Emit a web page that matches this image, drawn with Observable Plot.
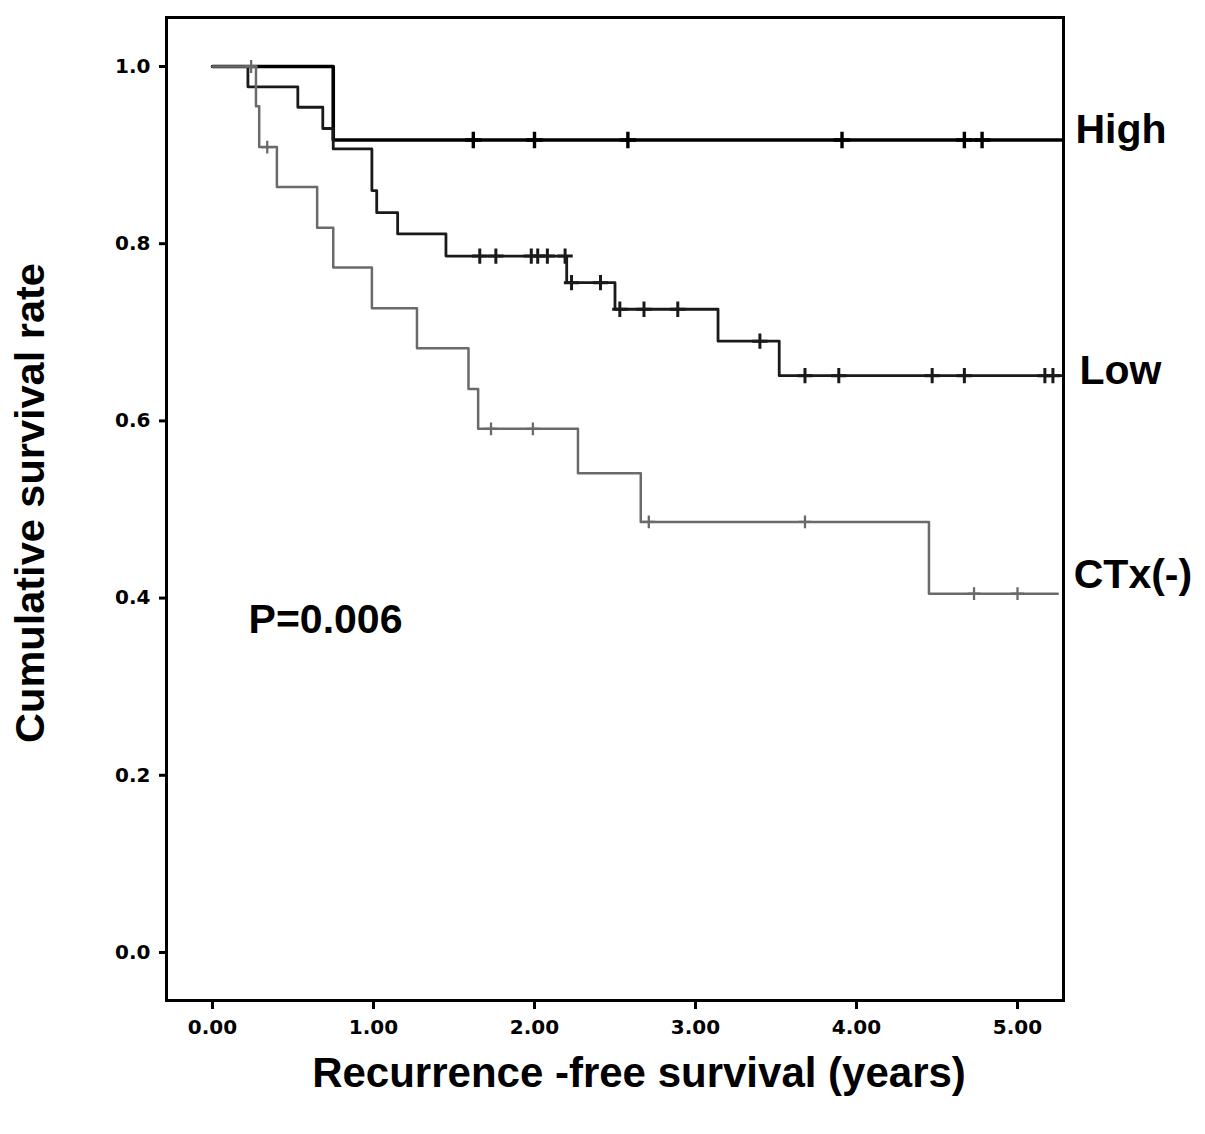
<!DOCTYPE html>
<html>
<head>
<meta charset="utf-8">
<script src="https://cdn.jsdelivr.net/npm/d3@7"></script>
<script src="https://cdn.jsdelivr.net/npm/@observablehq/plot@0.6"></script>
<style>
  body { margin: 0; background: #fff; overflow: hidden; }
</style>
</head>
<body>
<div id="chart"></div>
<script>
// Kaplan-Meier steps (years, cumulative survival)
const groups = ["High", "Low", "CTx(-)"];

const highTime = [0, 0.75];
const highSurv = [1.0, 0.917];
const highCensor = [1.62, 2.0, 2.58, 3.91, 4.67, 4.78];

const lowTime = [0, 0.22, 0.53, 0.685, 0.75, 0.99, 1.02, 1.15, 1.45, 2.2, 2.5, 3.14, 3.52];
const lowSurv = [1.0, 0.977, 0.954, 0.93, 0.907, 0.86, 0.835, 0.811, 0.786, 0.756, 0.726, 0.69, 0.651];
const lowCensor = [1.66, 1.76, 1.98, 2.02, 2.08, 2.19, 2.23, 2.41, 2.53, 2.68, 2.89, 3.4, 3.68, 3.89, 4.47, 4.67, 5.17, 5.22];

const ctxTime = [0, 0.27, 0.29, 0.4, 0.65, 0.75, 0.99, 1.27, 1.59, 1.65, 2.27, 2.66, 4.45];
const ctxSurv = [1.0, 0.955, 0.909, 0.864, 0.818, 0.773, 0.727, 0.682, 0.636, 0.591, 0.541, 0.486, 0.405];
const ctxCensor = [0.24, 0.34, 1.73, 1.99, 2.71, 3.68, 4.73, 5.0];

const lastFollowUp = [5.285, 5.285, 5.25];

const xTicks = [0, 1, 2, 3, 4, 5];
const yTicks = [0, 0.2, 0.4, 0.6, 0.8, 1.0];
const pText = "P=0.006";

const series = [
  {name: groups[0], time: highTime, surv: highSurv, censor: highCensor, end: lastFollowUp[0]},
  {name: groups[1], time: lowTime, surv: lowSurv, censor: lowCensor, end: lastFollowUp[1]},
  {name: groups[2], time: ctxTime, surv: ctxSurv, censor: ctxCensor, end: lastFollowUp[2]}
];

const look = {
  "High": {stroke: "#000", strokeWidth: 3.6, r: 5.4, tick: 3.4, dx: 12, dy: 3},
  "Low": {stroke: "#1a1a1a", strokeWidth: 2.8, r: 5, tick: 3, dx: 16, dy: 8},
  "CTx(-)": {stroke: "#6a6a6a", strokeWidth: 2.5, r: 4.2, tick: 2.3, dx: 16, dy: -6}
};

const labelFont = "Liberation Sans, Arial, sans-serif";

function survAt(d, t) {
  let s = d.surv[0];
  d.time.forEach((tt, i) => { if (tt <= t) s = d.surv[i]; });
  return s;
}

const marks = [];
series.forEach(d => {
  const st = look[d.name];
  const rows = d.time.map((t, i) => ({t, s: d.surv[i]}));
  rows.push({t: d.end, s: d.surv[d.surv.length - 1]});
  marks.push(Plot.line(rows, {x: "t", y: "s", curve: "step-after", stroke: st.stroke, strokeWidth: st.strokeWidth}));
  marks.push(Plot.dot(d.censor.map(t => ({t, s: survAt(d, t)})), {
    x: "t", y: "s", symbol: "plus", r: st.r, stroke: st.stroke, strokeWidth: st.tick
  }));
  marks.push(Plot.text([d], {
    x: "end", y: dd => dd.surv[dd.surv.length - 1], text: "name",
    textAnchor: "start", lineAnchor: "bottom", dx: st.dx, dy: st.dy,
    fontFamily: labelFont, fontWeight: "bold", fontSize: 41, fill: "#000"
  }));
});

const chart = Plot.plot({
  width: 1205,
  height: 1134,
  marginLeft: 166,
  marginRight: 142,
  marginTop: 17,
  marginBottom: 134,
  style: {fontFamily: "DejaVu Sans, sans-serif", fontWeight: "bold", fontSize: "20px", background: "#fff", color: "#000"},
  x: {domain: [-0.2857, 5.2857], label: null},
  y: {domain: [-0.0542, 1.0553], label: null},
  marks: [
    Plot.axisY({ticks: yTicks, tickFormat: d3.format(".1f"), tickSize: 7, tickPadding: 9, strokeWidth: 3, label: null}),
    Plot.axisX({ticks: xTicks, tickFormat: d3.format(".2f"), tickSize: 9, tickPadding: 10, strokeWidth: 3, label: null}),
    ...marks,
    Plot.frame({stroke: "#000", strokeWidth: 3}),
    Plot.text([pText], {
      x: 0.224, y: 0.361, text: d => d, textAnchor: "start", lineAnchor: "bottom",
      fontFamily: labelFont, fontWeight: "bold", fontSize: 41, fill: "#000"
    }),
    Plot.text(["Cumulative survival rate"], {
      frameAnchor: "left", text: d => d, rotate: -90, textAnchor: "middle", lineAnchor: "bottom", dx: -123, dy: -6,
      fontFamily: labelFont, fontWeight: "bold", fontSize: 41.5, fill: "#000"
    }),
    Plot.text(["Recurrence -free survival (years)"], {
      frameAnchor: "bottom", text: d => d, textAnchor: "middle", lineAnchor: "bottom", dx: 24, dy: 86,
      fontFamily: labelFont, fontWeight: "bold", fontSize: 42, fill: "#000"
    })
  ]
});

d3.select("#chart").append(() => chart);
</script>
</body>
</html>
